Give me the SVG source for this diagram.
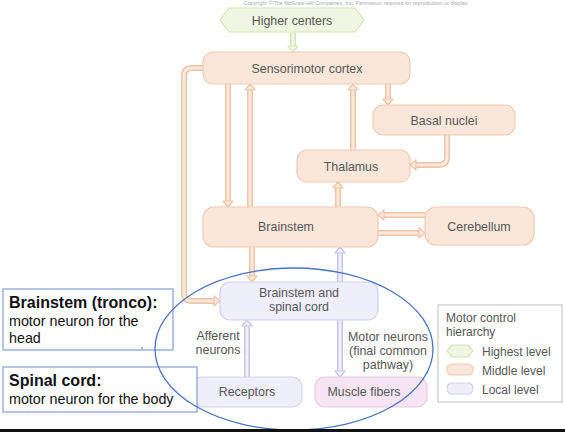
<svg xmlns="http://www.w3.org/2000/svg" width="565" height="432" viewBox="0 0 565 432">
  <style>
    .lbl { font-family: "Liberation Sans", Arial, sans-serif; font-size: 12.4px; fill: #575757; text-anchor: middle; }
    .side { font-family: "Liberation Sans", Arial, sans-serif; font-size: 12px; fill: #575757; }
    .mid { fill: #fbe7da; stroke: #efcbb2; stroke-width: 1.2; }
    .loc { fill: #efeefb; stroke: #d3d1ec; stroke-width: 1.2; }
    .mus { fill: #f7e5f5; stroke: #e5c9e1; stroke-width: 1.2; }
    .hi { fill: #eff6e2; stroke: #d3e4b4; stroke-width: 1.2; }
    .t-out { fill: none; stroke: #efc4a6; stroke-width: 6; }
    .t-in { fill: none; stroke: #fce9dc; stroke-width: 3; }
    .h-mid { fill: #fce9dc; stroke: #efc4a6; stroke-width: 1.2; stroke-linejoin: round; }
    .l-out { fill: none; stroke: #c8c6e8; stroke-width: 6; }
    .l-in { fill: none; stroke: #f1f0fc; stroke-width: 3; }
    .h-loc { fill: #f1f0fc; stroke: #c8c6e8; stroke-width: 1.2; stroke-linejoin: round; }
    .g-out { fill: none; stroke: #d6e5b8; stroke-width: 6; }
    .g-in { fill: none; stroke: #f2f8e6; stroke-width: 3; }
    .h-hi { fill: #f2f8e6; stroke: #d6e5b8; stroke-width: 1.2; stroke-linejoin: round; }
    .note { fill: #ffffff; stroke: #7f9fd6; stroke-width: 1.2; }
    .nb { font-family: "Liberation Sans", Arial, sans-serif; font-size: 16px; font-weight: bold; fill: #111; }
    .nt { font-family: "Liberation Sans", Arial, sans-serif; font-size: 14.3px; fill: #111; }
  </style>

  <rect width="565" height="432" fill="#ffffff"/>

  <!-- publisher line -->
  <text x="356" y="4.5" font-family="Liberation Sans, Arial, sans-serif" font-size="5.4" fill="#aaaaaa" text-anchor="middle">Copyright © The McGraw-Hill Companies, Inc. Permission required for reproduction or display.</text>

  <!-- connectors -->
  <g id="connectors">
    <!-- outer strokes -->
    <path class="g-out" d="M293,33 V46"/>
    <path class="t-out" d="M203,68 H192 Q184,68 184,76 V293 Q184,301 192,301 H214"/>
    <path class="t-out" d="M228,84 V201"/>
    <path class="t-out" d="M250,207 V90"/>
    <path class="t-out" d="M353,150 V90"/>
    <path class="t-out" d="M388,84 V99"/>
    <path class="t-out" d="M447,135 V157 Q447,165 439,165 H416"/>
    <path class="t-out" d="M338,207 V188"/>
    <path class="t-out" d="M425,215 H384"/>
    <path class="t-out" d="M378,233 H419"/>
    <path class="t-out" d="M252,247 V276"/>
    <path class="l-out" d="M340,282 V253"/>
    <path class="l-out" d="M247,377 V326"/>
    <path class="l-out" d="M340,320 V371"/>
    <!-- inner strokes -->
    <path class="g-in" d="M293,32 V47"/>
    <path class="t-in" d="M204,68 H192 Q184,68 184,76 V293 Q184,301 192,301 H215"/>
    <path class="t-in" d="M228,83 V202"/>
    <path class="t-in" d="M250,208 V89"/>
    <path class="t-in" d="M353,151 V89"/>
    <path class="t-in" d="M388,83 V100"/>
    <path class="t-in" d="M447,134 V157 Q447,165 439,165 H415"/>
    <path class="t-in" d="M338,208 V187"/>
    <path class="t-in" d="M426,215 H383"/>
    <path class="t-in" d="M377,233 H420"/>
    <path class="t-in" d="M252,246 V277"/>
    <path class="l-in" d="M340,283 V252"/>
    <path class="l-in" d="M247,378 V325"/>
    <path class="l-in" d="M340,319 V372"/>
    <!-- arrowheads -->
    <polygon class="h-hi" points="288,46 298,46 293,52"/>
    <polygon class="h-mid" points="214,296 214,306 220,301"/>
    <polygon class="h-mid" points="223,201 233,201 228,207"/>
    <polygon class="h-mid" points="245,90 255,90 250,84"/>
    <polygon class="h-mid" points="348,90 358,90 353,84"/>
    <polygon class="h-mid" points="383,99 393,99 388,105"/>
    <polygon class="h-mid" points="416,160 416,170 410,165"/>
    <polygon class="h-mid" points="333,188 343,188 338,182"/>
    <polygon class="h-mid" points="384,210 384,220 378,215"/>
    <polygon class="h-mid" points="419,228 419,238 425,233"/>
    <polygon class="h-mid" points="247,276 257,276 252,282"/>
    <polygon class="h-loc" points="335,253 345,253 340,247"/>
    <polygon class="h-loc" points="242,326 252,326 247,320"/>
    <polygon class="h-loc" points="335,371 345,371 340,377"/>
  </g>

  <!-- nodes -->
  <g id="higher-centers">
    <polygon class="hi" points="220,20 229,8 355,8 364,20 355,32 229,32"/>
    <text class="lbl" x="292" y="24.5">Higher centers</text>
  </g>
  <g id="sensorimotor-cortex">
    <rect class="mid" x="203" y="52" width="207" height="32" rx="10"/>
    <text class="lbl" x="307" y="72.5">Sensorimotor cortex</text>
  </g>
  <g id="basal-nuclei">
    <rect class="mid" x="373" y="105" width="142" height="30" rx="10"/>
    <text class="lbl" x="444" y="124.5">Basal nuclei</text>
  </g>
  <g id="thalamus">
    <rect class="mid" x="297" y="150" width="113" height="32" rx="10"/>
    <text class="lbl" x="351" y="170.5">Thalamus</text>
  </g>
  <g id="brainstem">
    <rect class="mid" x="203" y="207" width="175" height="40" rx="11"/>
    <text class="lbl" x="286" y="230.5">Brainstem</text>
  </g>
  <g id="cerebellum">
    <rect class="mid" x="425" y="207" width="109" height="38" rx="11"/>
    <text class="lbl" x="479" y="230.5">Cerebellum</text>
  </g>
  <g id="brainstem-spinal-cord">
    <rect class="loc" x="220" y="282" width="158" height="38" rx="10"/>
    <text class="lbl" x="299" y="296.5">Brainstem and</text>
    <text class="lbl" x="299" y="311">spinal cord</text>
  </g>
  <g id="receptors">
    <rect class="loc" x="192" y="377" width="110" height="30" rx="10"/>
    <text class="lbl" x="247" y="396">Receptors</text>
  </g>
  <g id="muscle-fibers">
    <rect class="mus" x="315" y="377" width="112" height="30" rx="10"/>
    <text class="lbl" x="364" y="396">Muscle fibers</text>
  </g>

  <!-- pathway labels -->
  <g id="pathway-labels">
    <text class="lbl" x="218" y="340">Afferent</text>
    <text class="lbl" x="218" y="354">neurons</text>
    <text class="lbl" x="388" y="341">Motor neurons</text>
    <text class="lbl" x="388" y="355">(final common</text>
    <text class="lbl" x="388" y="369">pathway)</text>
  </g>

  <!-- legend -->
  <g id="legend">
    <rect x="438" y="305" width="124" height="97" fill="#ffffff" stroke="#c8c8c8" stroke-width="1.2"/>
    <text class="side" x="446" y="322">Motor control</text>
    <text class="side" x="446" y="336">hierarchy</text>
    <polygon class="hi" points="447,351 452,345 468,345 473,351 468,357 452,357"/>
    <text class="side" x="482" y="355.5">Highest level</text>
    <rect class="mid" x="447" y="364" width="26" height="11" rx="5"/>
    <text class="side" x="482" y="374.5">Middle level</text>
    <rect class="loc" x="447" y="383" width="26" height="11" rx="5"/>
    <text class="side" x="482" y="393.5">Local level</text>
  </g>

  <!-- annotation notes -->
  <g id="note-brainstem">
    <rect class="note" x="3" y="289" width="170" height="61"/>
    <text class="nb" x="9" y="308">Brainstem (tronco):</text>
    <text class="nt" x="9" y="325.5">motor neuron for the</text>
    <text class="nt" x="9" y="342.5">head</text>
  </g>
  <g id="note-spinal">
    <rect class="note" x="3" y="367" width="194" height="45"/>
    <text class="nb" x="9" y="386">Spinal cord:</text>
    <text class="nt" x="9" y="403.5">motor neuron for the body</text>
  </g>
  <circle cx="142" cy="348" r="1" fill="#d88a8a"/>

  <!-- highlight ellipse -->
  <ellipse cx="294" cy="349" rx="139" ry="81" fill="none" stroke="#4a74bf" stroke-width="1.3"/>

  <!-- bottom bar -->
  <rect x="0" y="429" width="565" height="3" fill="#111111"/>
</svg>
